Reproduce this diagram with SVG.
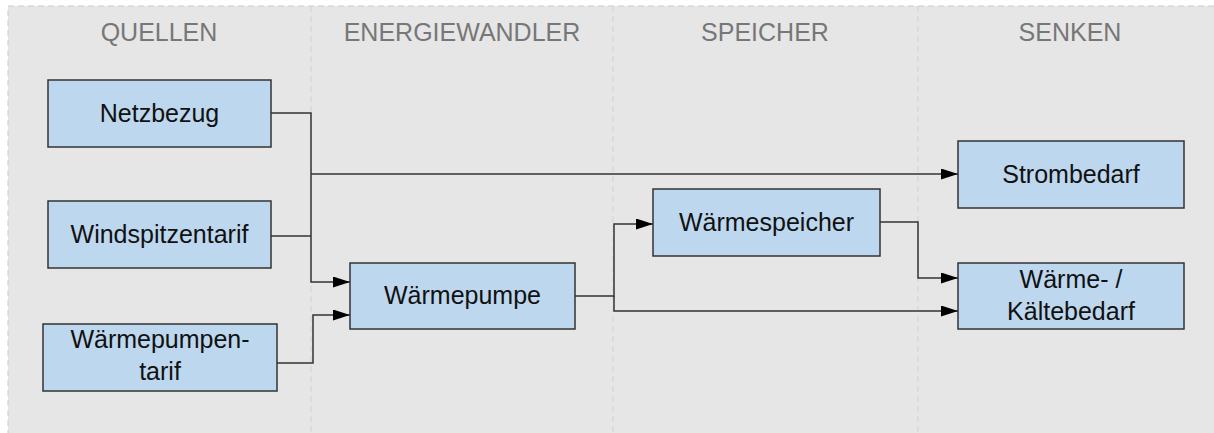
<svg xmlns="http://www.w3.org/2000/svg" width="1214" height="433" viewBox="0 0 1214 433">
<style>
.lane{fill:#e6e6e6;stroke:#cccccc;stroke-width:1;stroke-dasharray:6 4}
.div{stroke:#d2d2d2;stroke-width:1;stroke-dasharray:6 4;fill:none}
.hdr{font-family:"Liberation Sans",Arial,sans-serif;font-size:25px;fill:#777777;text-anchor:middle}
.box{fill:#bdd7ee;stroke:#333333;stroke-width:1.5}
.lbl{font-family:"Liberation Sans",Arial,sans-serif;font-size:25px;fill:#111111;text-anchor:middle}
.con{fill:none;stroke:#333333;stroke-width:1.5}
</style>
<defs>
<marker id="arr" viewBox="0 0 17 11" refX="17" refY="5.5" markerWidth="17" markerHeight="11" markerUnits="userSpaceOnUse" orient="auto">
<path d="M0,0 L17,5.5 L0,11 Z" fill="#000000"/>
</marker>
</defs>
<g id="lanes">
<rect class="lane" x="8" y="6" width="1220" height="440"/>
<line class="div" x1="311" y1="6" x2="311" y2="433"/>
<line class="div" x1="613" y1="6" x2="613" y2="433"/>
<line class="div" x1="918" y1="6" x2="918" y2="433"/>
<text class="hdr" x="159" y="41">QUELLEN</text>
<text class="hdr" x="462" y="41">ENERGIEWANDLER</text>
<text class="hdr" x="765" y="41">SPEICHER</text>
<text class="hdr" x="1070" y="41">SENKEN</text>
</g>
<g id="connectors">
<path class="con" d="M271,113 H311 V282 H350" marker-end="url(#arr)"/>
<path class="con" d="M271,236 H311"/>
<path class="con" d="M311,174 H958" marker-end="url(#arr)"/>
<path class="con" d="M277,363 H313 V315 H350" marker-end="url(#arr)"/>
<path class="con" d="M575,296 H614 V224 H653" marker-end="url(#arr)"/>
<path class="con" d="M614,296 V311 H958" marker-end="url(#arr)"/>
<path class="con" d="M880,222 H918 V278 H958" marker-end="url(#arr)"/>
</g>
<g id="netzbezug">
<rect class="box" x="48" y="80" width="223" height="67"/>
<text class="lbl" x="159.5" y="122">Netzbezug</text>
</g>
<g id="windspitzentarif">
<rect class="box" x="48" y="201" width="223" height="67"/>
<text class="lbl" x="159.5" y="243">Windspitzentarif</text>
</g>
<g id="waermepumpentarif">
<rect class="box" x="43" y="324" width="234" height="67"/>
<text class="lbl" x="160" y="348">Wärmepumpen-</text>
<text class="lbl" x="160" y="380">tarif</text>
</g>
<g id="waermepumpe">
<rect class="box" x="350" y="263" width="225" height="66"/>
<text class="lbl" x="462.5" y="304">Wärmepumpe</text>
</g>
<g id="waermespeicher">
<rect class="box" x="653" y="189" width="227" height="67"/>
<text class="lbl" x="766.5" y="231">Wärmespeicher</text>
</g>
<g id="strombedarf">
<rect class="box" x="958" y="141" width="226" height="67"/>
<text class="lbl" x="1071" y="183">Strombedarf</text>
</g>
<g id="waermekaeltebedarf">
<rect class="box" x="958" y="263" width="226" height="66"/>
<text class="lbl" x="1071" y="288">Wärme- /</text>
<text class="lbl" x="1071" y="320">Kältebedarf</text>
</g>
</svg>
